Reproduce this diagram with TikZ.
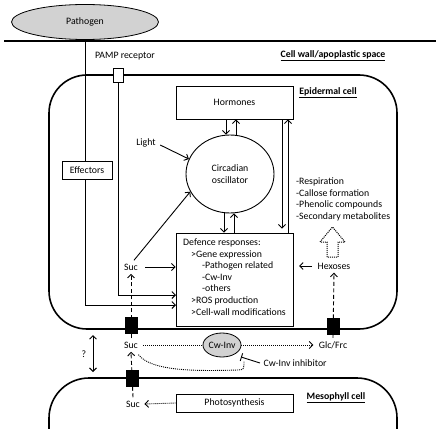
\documentclass[tikz,border=0pt]{standalone}
\usepackage{fontspec}
\setmainfont{Carlito}
\usetikzlibrary{arrows.meta,shapes.geometric}
\begin{document}
\begin{tikzpicture}[x=1pt,y=-1pt,
  font=\fontsize{9.8}{11.6}\selectfont,
  cellline/.style={line width=1.6pt},
  box/.style={draw, line width=0.9pt, fill=white, inner sep=0pt},
  arr/.style={-{Straight Barb[length=3.5pt,width=7pt]}, line width=0.9pt},
  dasharr/.style={arr, dash pattern=on 4pt off 2.5pt},
  dotarr/.style={arr, dash pattern=on 1pt off 1pt},
  dotline/.style={line width=0.9pt, dash pattern=on 1pt off 1pt},
  trans/.style={fill=black, draw=black, minimum width=12pt, minimum height=16pt, inner sep=0pt},
  lbl/.style={font=\fontsize{9.8}{11.6}\selectfont\bfseries},
  grayell/.style={ellipse, draw, line width=0.8pt, fill=gray!35, inner sep=0pt}]
\useasboundingbox (0,0) rectangle (441,428);

% apoplast top boundary
\coordinate (wallL) at (4,41);
\coordinate (wallR) at (436,41);
\draw[line width=1.2pt] (wallL) -- (wallR);

% cells
\draw[cellline, rounded corners=38pt] (49,75) rectangle (397,329);
\draw[cellline, rounded corners=40pt] (49,440) -- (49,378) -- (397,378) -- (397,440);

% pathogen
\node[grayell, minimum width=147pt, minimum height=35pt] (pathogen) at (85,22) {Pathogen};

% labels
\node[lbl] (cwlbl) at (333,56) {\underline{Cell wall/apoplastic space}};
\node[lbl] (epilbl) at (328,93) {\underline{Epidermal cell}};
\node[lbl] (meslbl) at (336,398) {\underline{Mesophyll cell}};
\node (pamplbl) at (125,56) {PAMP receptor};

% main boxes
\node[box, minimum width=117pt, minimum height=33pt] (horm) at (234.5,102.5) {Hormones};
\node[ellipse, draw, line width=0.9pt, minimum width=88pt, minimum height=78pt, inner sep=0pt, align=center] (osc) at (230,174) {Circadian\\oscillator};
\node[box, minimum width=117pt, minimum height=93pt] (def) at (234.5,279.5) {};
\node[anchor=north west, align=left, inner sep=0pt] (deftext) at (183,238.5) {Defence responses:\\
\hspace*{8pt}>Gene expression\\
\hspace*{19pt}-Pathogen related\\
\hspace*{19pt}-Cw-Inv\\
\hspace*{19pt}-others\\
\hspace*{8pt}>ROS production\\
\hspace*{8pt}>Cell-wall modifications};
\node[box, minimum width=117pt, minimum height=18pt] (photo) at (234.5,403) {Photosynthesis};

% pathogen / PAMP signalling lines
\node[draw, fill=white, line width=0.9pt, minimum width=10pt, minimum height=14pt, inner sep=0pt] (pamp) at (118,75) {};
\coordinate (pathbend) at (85,305);
\coordinate (pathend) at (176,305);
\draw[arr] (pathogen.south) -- (pathbend) -- (pathend);
\coordinate (pampbend) at (118,295);
\coordinate (pampend) at (176,295);
\draw[arr] (pamp.south) -- (pampbend) -- (pampend);
\node[box, minimum width=50pt, minimum height=18pt] (eff) at (87,170) {Effectors};

% hormones <-> oscillator
\draw[arr] ([xshift=-8.5pt]horm.south) -- ([xshift=-8.5pt]horm.south |- osc.north);
\draw[arr] ([xshift=1.5pt]horm.south |- osc.north) -- ([xshift=1.5pt]horm.south);
% oscillator <-> defence
\draw[arr] ([xshift=-10.5pt]def.north |- osc.south) -- ([xshift=-10.5pt]def.north);
\draw[arr] ([xshift=-0.5pt]def.north) -- ([xshift=-0.5pt]def.north |- osc.south);
% hormones <-> defence
\draw[arr] ([xshift=47.5pt]horm.south) -- ([xshift=47.5pt,yshift=4pt]def.north);
\draw[arr] ([xshift=53.5pt]def.north) -- ([xshift=53.5pt]horm.south);

% light
\node (light) at (146,143) {Light};
\draw[arr] ([xshift=1pt,yshift=-2pt]light.east) -- (osc.160);

% sucrose in epidermal cell
\node (suc1) at (131,267) {Suc};
\draw[arr] ([xshift=3pt]suc1.north) -- (osc.204);
\draw[arr] ([xshift=4pt]suc1.east) -- (suc1.east -| def.west);

% apoplast
\node (suc2) at (131,345) {Suc};
\node (suc3) at (133,404) {Suc};
\node (glc) at (333,345) {Glc/Frc};
\node (hex) at (334,266) {Hexoses};
\draw[dasharr] (suc2.north) -- (suc1.south);
\draw[dasharr] (suc3.north) -- (suc2.south);
\draw[dasharr] (glc.north) -- (hex.south);
\node[trans] (t1) at (131,325) {};
\node[trans] (t2) at (132,378.5) {};
\node[trans] (t3) at (333,326) {};

\coordinate (hexend) at (299,266);
\draw[arr] ([xshift=-2pt]hex.west) -- (hexend);

% hollow dotted arrow
\draw[line width=1pt, dash pattern=on 1pt off 1pt] (327,257) -- (327,242) -- (320,242) -- (332.5,227) -- (345,242) -- (338,242) -- (338,257) -- cycle;

\node[anchor=north west, align=left, inner sep=0pt] (proc) at (296,177.5) {-Respiration\\-Callose formation\\-Phenolic compounds\\-Secondary metabolites};

% Cw-Inv
\node[grayell, minimum width=36pt, minimum height=24pt] (cwinv) at (222,345) {Cw-Inv};
\draw[dotline] ([xshift=2pt]suc2.east) -- (cwinv.west);
\draw[dotarr] (cwinv.east) -- ([xshift=-2pt]glc.west);
\node[anchor=west] (inh) at (260,363) {Cw-Inv inhibitor};
\coordinate (inhend) at (241,357);
\draw[line width=0.9pt, -{Bar[width=8pt]}] (inh.west) -- (inhend);
\coordinate (dotend) at (244,361);
\draw[dotline] ([xshift=-3pt,yshift=-3pt]suc2.south east) .. controls (152,372) and (200,371) .. (238,370) .. controls (244,369.5) .. (dotend);

% ? between cells
\node (q) at (84,354) {?};
\coordinate (qtop) at (93,335);
\coordinate (qbot) at (93,372);
\draw[{Straight Barb[length=3.5pt,width=7pt]}-{Straight Barb[length=3.5pt,width=7pt]}, line width=0.9pt] (qtop) -- (qbot);

% photosynthesis
\draw[dotarr] (photo.west) -- ([xshift=1pt]suc3.east);
\end{tikzpicture}
\end{document}
